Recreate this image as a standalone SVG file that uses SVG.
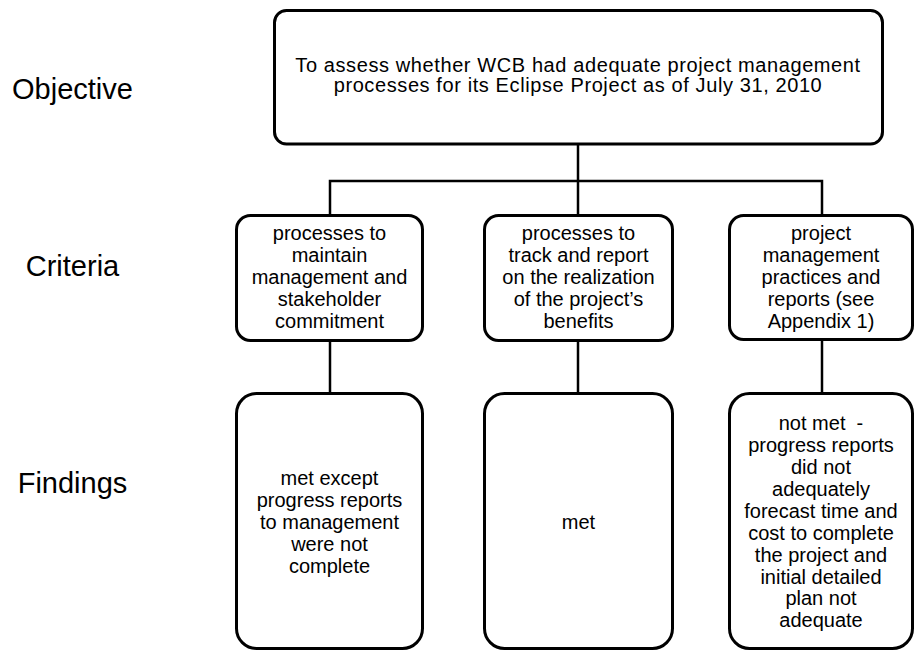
<svg xmlns="http://www.w3.org/2000/svg" width="916" height="652" viewBox="0 0 916 652">
<style>
.box{fill:#fff;stroke:#000;stroke-width:3}
.con{fill:none;stroke:#000;stroke-width:2.5}
.t{font-family:"Liberation Sans",Arial,sans-serif;font-size:20px;fill:#000;text-anchor:middle}
.top{letter-spacing:0.6px}
.lbl{font-family:"Liberation Sans",Arial,sans-serif;font-size:29px;fill:#000;text-anchor:middle}
</style>
<rect width="916" height="652" fill="#fff"/>
<g id="connectors">
<line class="con" x1="578" y1="145" x2="578" y2="215"/>
<polyline class="con" points="330,215 330,181 822,181 822,215"/>
<line class="con" x1="330" y1="341" x2="330" y2="393"/>
<line class="con" x1="578" y1="341" x2="578" y2="393"/>
<line class="con" x1="822" y1="340" x2="822" y2="393"/>
</g>
<g id="labels">
<text class="lbl" x="72.5" y="99">Objective</text>
<text class="lbl" x="72.5" y="276">Criteria</text>
<text class="lbl" x="72.5" y="493">Findings</text>
</g>
<g id="objective">
<rect class="box" x="274.5" y="10.5" width="608" height="133.5" rx="12"/>
<text class="t top" x="578" y="71.5">To assess whether WCB had adequate project management</text>
<text class="t top" x="578" y="92">processes for its Eclipse Project as of July 31, 2010</text>
</g>
<g id="criteria1">
<rect class="box" x="236.5" y="215.5" width="186" height="125" rx="14"/>
<text class="t" x="329.5" y="240">processes to</text>
<text class="t" x="329.5" y="262">maintain</text>
<text class="t" x="329.5" y="284">management and</text>
<text class="t" x="329.5" y="306">stakeholder</text>
<text class="t" x="329.5" y="328">commitment</text>
</g>
<g id="criteria2">
<rect class="box" x="484.5" y="215.5" width="188" height="125" rx="14"/>
<text class="t" x="578.5" y="240">processes to</text>
<text class="t" x="578.5" y="262">track and report</text>
<text class="t" x="578.5" y="284">on the realization</text>
<text class="t" x="578.5" y="306">of the project’s</text>
<text class="t" x="578.5" y="328">benefits</text>
</g>
<g id="criteria3">
<rect class="box" x="729.5" y="215.5" width="183" height="124" rx="14"/>
<text class="t" x="821" y="240">project</text>
<text class="t" x="821" y="262">management</text>
<text class="t" x="821" y="284">practices and</text>
<text class="t" x="821" y="306">reports (see</text>
<text class="t" x="821" y="328">Appendix 1)</text>
</g>
<g id="finding1">
<rect class="box" x="236.5" y="393.5" width="186" height="255" rx="20"/>
<text class="t" x="329.5" y="485">met except</text>
<text class="t" x="329.5" y="507">progress reports</text>
<text class="t" x="329.5" y="529">to management</text>
<text class="t" x="329.5" y="551">were not</text>
<text class="t" x="329.5" y="572.5">complete</text>
</g>
<g id="finding2">
<rect class="box" x="484.5" y="393.5" width="188" height="255" rx="20"/>
<text class="t" x="578.5" y="529">met</text>
</g>
<g id="finding3">
<rect class="box" x="729.5" y="393.5" width="183" height="255" rx="20"/>
<text class="t" x="821" y="430" xml:space="preserve">not met  -</text>
<text class="t" x="821" y="452">progress reports</text>
<text class="t" x="821" y="474">did not</text>
<text class="t" x="821" y="496">adequately</text>
<text class="t" x="821" y="518">forecast time and</text>
<text class="t" x="821" y="539.5">cost to complete</text>
<text class="t" x="821" y="561.5">the project and</text>
<text class="t" x="821" y="583.5">initial detailed</text>
<text class="t" x="821" y="605">plan not</text>
<text class="t" x="821" y="627">adequate</text>
</g>
</svg>
